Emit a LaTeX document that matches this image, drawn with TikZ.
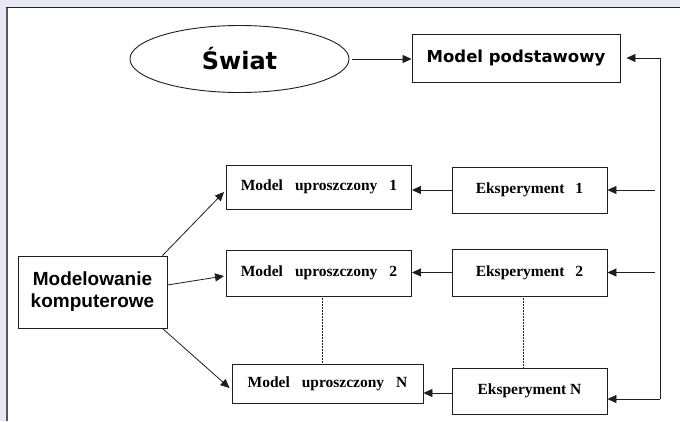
\documentclass[tikz,border=0pt]{standalone}
\usepackage{fontspec}
\usetikzlibrary{shapes.geometric,arrows.meta}
\newfontfamily\verd{DejaVu Sans}
\newfontfamily\tnr{Liberation Serif}
\newfontfamily\arl{Liberation Sans}
\definecolor{bandc}{RGB}{232,232,242}
\definecolor{linec}{RGB}{30,30,30}
\begin{document}
\begin{tikzpicture}[x=1pt,y=-1pt,
  line width=0.9pt,
  box/.style={draw=linec, fill=white, inner sep=0pt, line width=0.9pt},
  mbox/.style={box, font=\tnr\bfseries\fontsize{15.5}{17}\selectfont},
  arr/.style={draw=linec, line width=0.8pt, -{Triangle[length=9pt,width=8pt]}},
  dot/.style={draw=linec, line width=0.5pt, densely dotted},
  fb/.style={draw=linec, line width=0.8pt}]
\useasboundingbox (0,0) rectangle (680,421);
\fill[bandc] (0,0) rectangle (680,421);
\fill[white] (6,7) rectangle (680,421);
\draw[gray!70!black, line width=1.6pt] (6.8,7) -- (6.8,421);
\draw[linec, line width=1pt] (6,7.5) -- (680,7.5);

% nodes
\node[box, ellipse, minimum width=219pt, minimum height=67pt] (sw) at (239.5,59)
  {\verd\bfseries\fontsize{24}{26}\selectfont Świat};
\node[box, minimum width=208pt, minimum height=48pt,
  font=\verd\bfseries\fontsize{16.5}{18}\selectfont] (mp) at (516,58) {Model podstawowy};
\node[mbox, minimum width=185pt, minimum height=44pt] (m1) at (319,187)
  {Model\hspace{12pt}uproszczony\hspace{12pt}1};
\node[mbox, minimum width=185pt, minimum height=46pt] (m2) at (319,273)
  {Model\hspace{12pt}uproszczony\hspace{12pt}2};
\node[mbox, minimum width=191pt, minimum height=39pt] (mn) at (327.5,383.5)
  {Model\hspace{12pt}uproszczony\hspace{12pt}N};
\node[mbox, minimum width=155pt, minimum height=46pt] (e1) at (529.5,190)
  {Eksperyment\hspace{11pt}1};
\node[mbox, minimum width=155pt, minimum height=47pt] (e2) at (529.5,272.5)
  {Eksperyment\hspace{11pt}2};
\node[mbox, minimum width=155pt, minimum height=46pt] (en) at (529.5,391)
  {Eksperyment N};
\node[box, minimum width=149pt, minimum height=72pt, align=center,
  font=\arl\bfseries\fontsize{19}{22}\selectfont] (mk) at (92.5,292)
  {Modelowanie\\komputerowe};

% feedback coordinates
\coordinate (ft) at (660,58);
\coordinate (fbm) at (660,399);
\coordinate (f1) at (655,190);
\coordinate (f2) at (655,272.5);
\coordinate (d1) at (322,0);
\coordinate (d2) at (523,0);

% connectors
\draw[arr, shorten <=3pt] (sw.east) -- (sw.east -| mp.west);
\draw[arr, shorten >=6pt] (ft) -- (ft -| mp.east);
\draw[fb] (ft) -- (fbm);
\draw[arr] (fbm) -- (fbm -| en.east);
\draw[arr] (f1) -- (e1.east);
\draw[arr] (f2) -- (e2.east);
\draw[arr] (e1.west) -- (e1.west -| m1.east);
\draw[arr] (e2.west) -- (e2.west -| m2.east);
\draw[arr] ([yshift=-2pt]en.west) -- ([yshift=-2pt]en.west -| mn.east);
\draw[arr] ([xshift=-5pt]mk.north east) -- ([xshift=-2pt,yshift=-5pt]m1.west);
\draw[arr] ([yshift=7pt]mk.east) -- ([xshift=-2pt,yshift=-3pt]m2.west);
\draw[arr] ([xshift=-5pt]mk.south east) -- ([xshift=-2pt,yshift=-4.5pt]mn.west);
\draw[dot] (m2.south -| d1) -- (mn.north -| d1);
\draw[dot] (e2.south -| d2) -- (en.north -| d2);
\end{tikzpicture}
\end{document}
